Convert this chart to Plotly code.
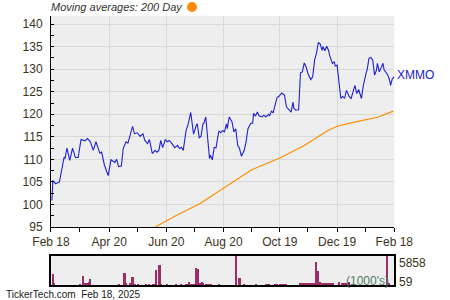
import plotly.graph_objects as go

# ---- price series (XMMO) ----
price_dates = [
    "2024-02-19","2024-02-20","2024-02-23","2024-02-27","2024-02-29","2024-03-03","2024-03-04","2024-03-06",
    "2024-03-09","2024-03-12","2024-03-15","2024-03-18","2024-03-21","2024-03-25","2024-03-28","2024-03-31",
    "2024-04-03","2024-04-06","2024-04-10","2024-04-12","2024-04-15","2024-04-19","2024-04-22","2024-04-26",
    "2024-04-28","2024-04-30","2024-05-03","2024-05-05","2024-05-08","2024-05-10","2024-05-12","2024-05-15",
    "2024-05-17","2024-05-20","2024-05-23","2024-05-26","2024-05-28","2024-05-31","2024-06-02","2024-06-05",
    "2024-06-08","2024-06-10","2024-06-12","2024-06-14","2024-06-16","2024-06-19","2024-06-21","2024-06-23",
    "2024-06-26","2024-06-27","2024-06-29","2024-07-02","2024-07-04","2024-07-06","2024-07-08","2024-07-11",
    "2024-07-13","2024-07-16","2024-07-18","2024-07-19","2024-07-22","2024-07-23","2024-07-25","2024-07-27",
    "2024-07-29","2024-07-30","2024-08-01","2024-08-03","2024-08-05","2024-08-06","2024-08-08","2024-08-10",
    "2024-08-12","2024-08-13","2024-08-15","2024-08-17","2024-08-19","2024-08-21","2024-08-23","2024-08-24",
    "2024-08-26","2024-08-29","2024-08-31","2024-09-02","2024-09-04","2024-09-06","2024-09-08","2024-09-11",
    "2024-09-13","2024-09-15","2024-09-18","2024-09-20","2024-09-21","2024-09-23","2024-09-25","2024-09-27",
    "2024-09-30","2024-10-02","2024-10-04","2024-10-07","2024-10-08","2024-10-10","2024-10-12","2024-10-13",
    "2024-10-15","2024-10-16","2024-10-18","2024-10-21","2024-10-24","2024-10-26","2024-10-29","2024-10-31",
    "2024-11-02","2024-11-03","2024-11-05","2024-11-08","2024-11-10","2024-11-12","2024-11-14","2024-11-16",
    "2024-11-18","2024-11-21","2024-11-23","2024-11-25","2024-11-27","2024-11-29","2024-12-01","2024-12-03",
    "2024-12-04","2024-12-06","2024-12-08","2024-12-10","2024-12-11","2024-12-14","2024-12-16","2024-12-17",
    "2024-12-19","2024-12-21","2024-12-23","2024-12-25","2024-12-27","2024-12-29","2025-01-01","2025-01-03",
    "2025-01-05","2025-01-07","2025-01-09","2025-01-11","2025-01-14","2025-01-16","2025-01-19","2025-01-20",
    "2025-01-22","2025-01-24","2025-01-26","2025-01-28","2025-01-30","2025-01-31","2025-02-02","2025-02-04",
    "2025-02-06","2025-02-07","2025-02-09","2025-02-11","2025-02-13","2025-02-14","2025-02-16","2025-02-18",
]
price_values = [
    100.9,105.3,104.6,105.0,107.2,110.5,110.2,112.5,
    109.8,112.5,110.4,110.4,114.4,114.1,114.6,113.9,
    112.0,113.9,111.4,111.6,108.7,106.4,109.9,109.3,
    110.0,108.4,108.5,112.4,113.9,113.6,115.1,117.3,
    115.7,115.9,115.1,115.7,114.2,113.5,114.4,111.3,
    112.0,111.6,112.0,114.2,112.6,114.4,113.9,114.2,
    113.5,113.1,112.6,113.1,112.4,112.7,112.0,116.4,
    117.6,120.4,116.1,115.6,117.6,117.9,114.8,115.1,
    117.9,118.0,119.4,114.2,110.2,110.9,109.9,112.6,
    112.6,113.9,116.3,115.9,116.4,116.1,117.9,116.8,
    119.4,118.3,116.1,116.8,113.1,112.4,110.7,112.0,
    113.9,116.8,118.0,118.0,120.2,119.6,120.5,119.6,
    119.4,119.8,119.4,120.0,119.6,120.7,120.3,121.3,
    123.3,123.7,124.0,124.7,124.2,121.6,121.0,120.5,
    122.7,121.3,120.9,121.0,129.2,129.4,131.4,130.5,
    129.0,127.7,128.3,132.0,133.5,135.9,135.6,134.2,
    135.0,134.1,135.1,134.1,133.1,131.3,131.6,130.7,
    130.9,127.6,123.5,124.0,123.5,125.3,123.9,123.5,
    125.0,126.4,124.6,125.5,123.5,126.4,129.2,129.8,
    132.4,132.6,132.0,128.7,129.8,131.3,129.4,130.5,
    131.3,129.9,129.2,128.7,127.6,126.4,127.9,128.3,
]

# ---- 200 day moving average ----
ma_dates = ["2024-06-02","2024-06-07","2024-07-01","2024-07-26","2024-08-21","2024-09-19","2024-10-19",
            "2024-11-14","2024-12-10","2024-12-20","2025-01-03","2025-01-17","2025-02-01","2025-02-17"]
ma_values = [94.3, 94.9, 97.6, 100.2, 103.7, 107.7, 110.3, 113.1, 116.5, 117.4, 118.1, 118.7, 119.4, 120.7]

# ---- volume (1000's) ----
vol_dates = [
    "2024-02-20","2024-02-21","2024-03-20","2024-03-23","2024-03-25","2024-03-27","2024-03-29","2024-03-31",
    "2024-04-30","2024-05-06","2024-05-07","2024-05-08","2024-05-12","2024-05-14","2024-05-15","2024-05-17",
    "2024-05-18","2024-05-21","2024-05-29","2024-06-02","2024-06-06","2024-06-07","2024-06-09","2024-06-12",
    "2024-06-13","2024-06-14","2024-06-21","2024-06-30","2024-07-06","2024-07-11","2024-07-13","2024-07-14",
    "2024-07-15","2024-07-17","2024-07-18","2024-07-19","2024-07-22","2024-07-24","2024-07-26","2024-07-28",
    "2024-07-29","2024-08-01","2024-08-02","2024-08-03","2024-08-05","2024-08-06","2024-08-07","2024-08-15",
    "2024-09-02","2024-09-05","2024-09-06","2024-09-07","2024-09-11","2024-09-24","2024-10-04","2024-10-05",
    "2024-10-07","2024-10-14","2024-10-16","2024-10-19","2024-10-21","2024-10-22","2024-10-23","2024-10-25",
    "2024-10-26","2024-11-09","2024-11-11","2024-11-13","2024-11-15","2024-11-17","2024-11-19","2024-11-21",
    "2024-11-23","2024-11-24","2024-11-27","2024-11-29","2024-12-01","2024-12-03","2024-12-05","2024-12-07",
    "2024-12-09","2024-12-11","2024-12-13","2024-12-15","2024-12-21","2024-12-24","2024-12-26","2024-12-28",
    "2024-12-30","2024-12-31","2025-01-01","2025-02-10","2025-02-12",
]
vol_values = [
    2220, 340, 200, 1820, 340, 470, 600, 1210,
    200, 2490, 2490, 470, 340, 1680, 1680, 200,
    200, 200, 200, 200, 200, 200, 3030, 4040,
    4040, 200, 200, 200, 200, 200, 200, 600,
    200, 200, 200, 200, 3430, 3230, 340, 600,
    340, 200, 200, 200, 200, 200, 200, 200,
    5858, 1350, 1350, 470, 200, 200, 200, 200,
    200, 200, 200, 200, 200, 200, 200, 200,
    200, 340, 340, 340, 340, 340, 340, 340,
    340, 340, 4650, 2830, 600, 470, 470, 470,
    470, 470, 470, 470, 600, 340, 340, 340,
    340, 340, 600, 5858, 340,
]
vol_max_label = "5858"
vol_min_label = "59"

x_tick_vals = ["2024-02-18","2024-04-20","2024-06-20","2024-08-20","2024-10-19","2024-12-19","2025-02-18"]
x_tick_text = ["Feb 18","Apr 20","Jun 20","Aug 20","Oct 19","Dec 19","Feb 18"]
x_minor_vals = ["2024-03-19","2024-05-20","2024-07-20","2024-09-19","2024-11-18","2025-01-18"]
y_tick_vals = [95, 100, 105, 110, 115, 120, 125, 130, 135, 140]
y_minor_vals = [97.5, 102.5, 107.5, 112.5, 117.5, 122.5, 127.5, 132.5, 137.5]

FONT = "Liberation Sans, Arial, sans-serif"
TICKC = "#3b3420"
BLUE = "#2020d8"
ORANGE = "#ff8c00"

fig = go.Figure()
fig.add_trace(go.Scatter(x=ma_dates, y=ma_values, mode="lines",
                         line=dict(color=ORANGE, width=1.1), xaxis="x", yaxis="y", hoverinfo="skip"))
fig.add_trace(go.Scatter(x=price_dates, y=price_values, mode="lines",
                         line=dict(color=BLUE, width=1.1), xaxis="x", yaxis="y"))
fig.add_trace(go.Bar(x=vol_dates, y=vol_values, marker=dict(color="#9c2d66", line=dict(width=0)),
                     width=86400000 * 1.1, xaxis="x2", yaxis="y2"))

xr = ["2024-02-18", "2025-02-18"]
fig.update_layout(
    width=450, height=300, margin=dict(l=0, r=0, t=0, b=0, autoexpand=False),
    paper_bgcolor="white", plot_bgcolor="#eeeeee", showlegend=False,
    font=dict(family=FONT, size=12, color=TICKC),
    bargap=0,
    xaxis=dict(domain=[0.1133, 0.8762], range=xr, type="date", automargin=False,
               tickvals=x_tick_vals, ticktext=x_tick_text,
               ticks="outside", ticklen=4, tickcolor="black", tickwidth=1,
               minor=dict(tickvals=x_minor_vals, ticks="outside", ticklen=4, tickcolor="black", showgrid=False),
               showgrid=True, gridcolor="#d9d9d9", gridwidth=1,
               showline=True, linecolor="black", linewidth=1,
               tickfont=dict(size=12, color=TICKC), anchor="y", zeroline=False),
    yaxis=dict(domain=[0.2433, 0.9467], range=[95, 141.8], automargin=False,
               tickvals=y_tick_vals, ticks="inside", ticklen=3, tickcolor="black",
               minor=dict(tickvals=y_minor_vals, ticks="inside", ticklen=3, tickcolor="black", showgrid=False),
               showgrid=True, gridcolor="#d9d9d9", gridwidth=1,
               showline=True, linecolor="black", linewidth=1,
               tickfont=dict(size=12, color=TICKC), ticklabelstandoff=5, zeroline=False, anchor="x"),
    xaxis2=dict(domain=[0.1133, 0.8762], range=xr, type="date", anchor="y2", automargin=False,
                showticklabels=False, ticks="", showgrid=False,
                showline=True, mirror=True, linecolor="black", linewidth=1.5, zeroline=False),
    yaxis2=dict(domain=[0.05, 0.1467], range=[0, 5858], anchor="x2", automargin=False,
                showticklabels=False, ticks="", showgrid=False,
                showline=True, mirror=True, linecolor="black", linewidth=1.5, zeroline=False),
    annotations=[
        dict(x=price_dates[-1], y=price_values[-1], xref="x", yref="y", text="XMMO", showarrow=False,
             xanchor="left", yanchor="middle", xshift=1, yshift=2, font=dict(size=12, color=BLUE)),
        dict(x=0.108, y=1.0, xref="paper", yref="paper", text="<i>Moving averages: 200 Day</i>",
             showarrow=False, xanchor="left", yanchor="top", yshift=1, font=dict(size=11, color="#333333")),
        dict(x=0.8815, y=0.1233, xref="paper", yref="paper", text=vol_max_label, showarrow=False,
             xanchor="left", yanchor="middle", font=dict(size=12, color=TICKC)),
        dict(x=0.8815, y=0.06, xref="paper", yref="paper", text=vol_min_label, showarrow=False,
             xanchor="left", yanchor="middle", font=dict(size=12, color=TICKC)),
        dict(x=0.869, y=0.063, xref="paper", yref="paper", text="(1000's)", showarrow=False,
             xanchor="right", yanchor="middle", font=dict(size=12, color="#4e7e62")),
        dict(x=0.009, y=0.02, xref="paper", yref="paper", text="TickerTech.com  Feb 18, 2025",
             showarrow=False, xanchor="left", yanchor="middle", font=dict(size=10, color="#1a1a1a")),
    ],
    shapes=[
        dict(type="circle", xref="paper", yref="paper", x0=0.4156, x1=0.4378, y0=0.96, y1=0.9933,
             fillcolor=ORANGE, line=dict(width=0)),
    ],
)

fig.write_html("out.html")
